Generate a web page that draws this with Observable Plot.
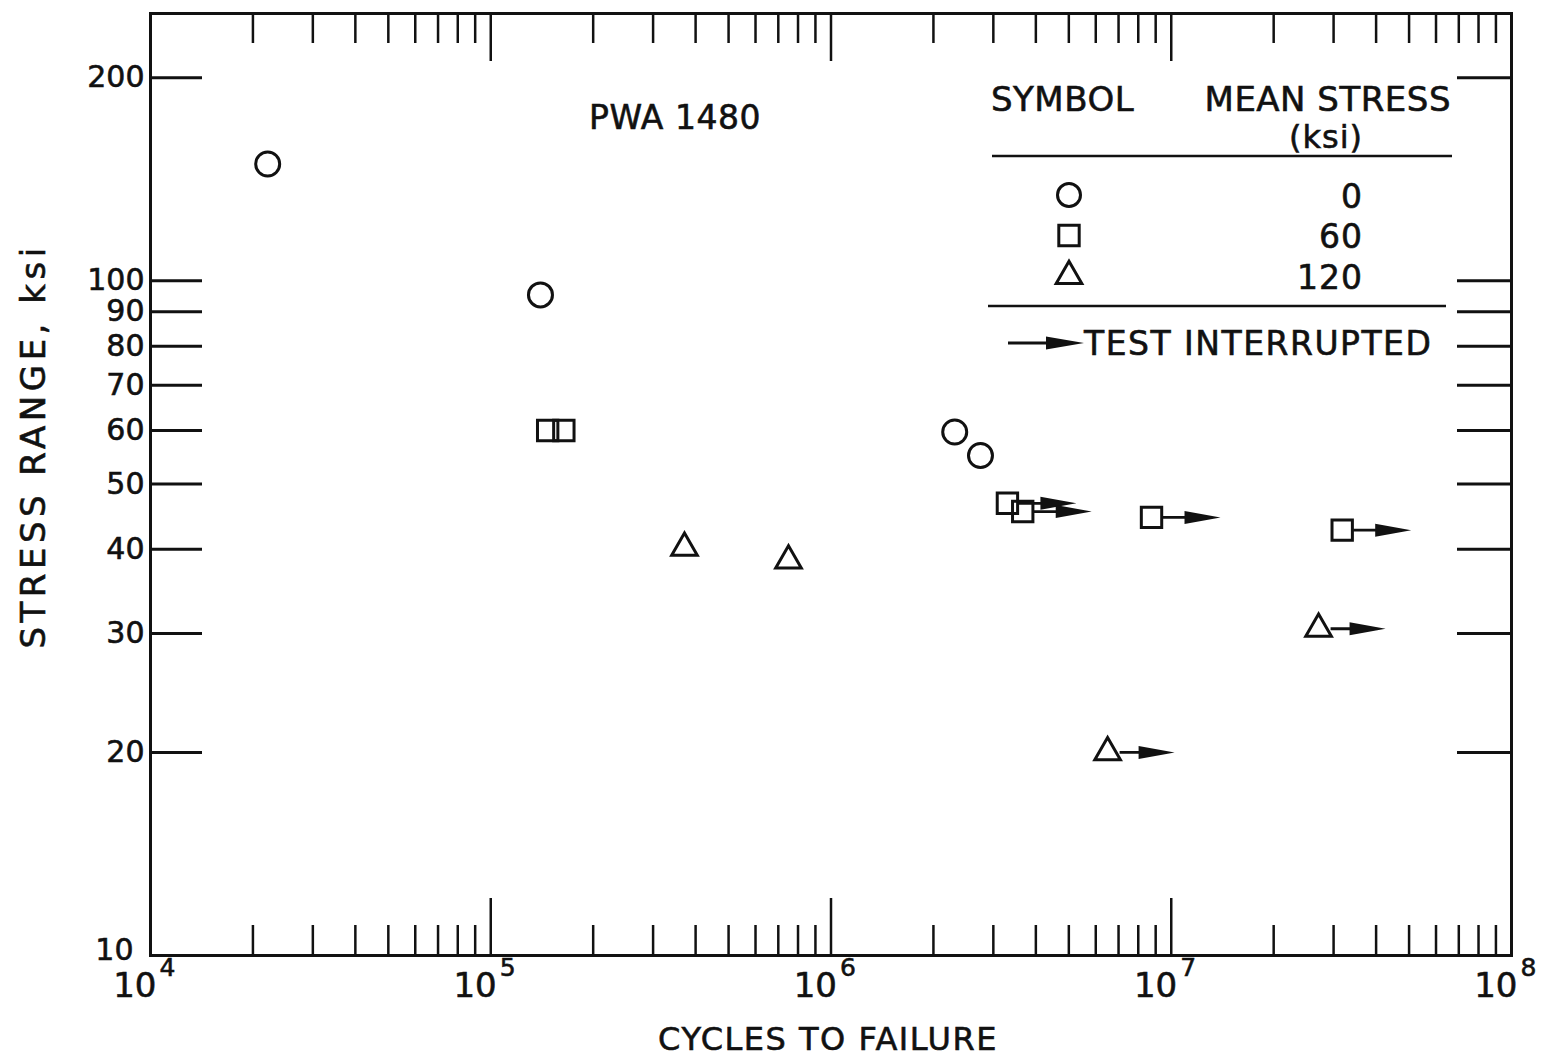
<!DOCTYPE html>
<html><head><meta charset="utf-8">
<script src="https://cdn.jsdelivr.net/npm/d3@7"></script>
<script src="https://cdn.jsdelivr.net/npm/@observablehq/plot@0.6"></script>
<style>body{margin:0;background:#fff} svg{font-family:"DejaVu Sans",sans-serif} svg text{stroke:#111;stroke-width:0.6px}</style>
</head><body><div id="chart"></div>
<script>
// ---- data ----
const circleX = [2.21e4, 1.40e5, 2.31e6, 2.75e6];
const circleY = [149, 95.3, 59.7, 55.1];
const squareX = [1.47e5, 1.64e5, 3.30e6, 3.66e6, 8.75e6, 3.18e7];
const squareY = [60, 60, 46.8, 45.5, 44.6, 42.7];
const squareInterrupted = [false, false, true, true, true, true];
const triangleX = [3.71e5, 7.50e5, 2.71e7, 6.50e6];
const triangleY = [40.2, 38.5, 30.5, 20];
const triangleInterrupted = [false, false, true, true];

const yTickValues = [20, 30, 40, 50, 60, 70, 80, 90, 100, 200];
const yLabelValues = [10, 20, 30, 40, 50, 60, 70, 80, 90, 100, 200];
const xDecades = [1e4, 1e5, 1e6, 1e7, 1e8];
const xExponents = ["4", "5", "6", "7", "8"];
const xMajorInner = [1e5, 1e6, 1e7];
const xMinorMultipliers = [2, 3, 4, 5, 6, 7, 8, 9];
const xMinorDecades = [1e4, 1e5, 1e6, 1e7];

const legendRows = [
  {symbol: "circle", label: "0"},
  {symbol: "square", label: "60"},
  {symbol: "triangle", label: "120"}
];

// ---- layout ----
const W = 1548, H = 1060;
const mL = 150, mR = 37, mT = 13, mB = 105;
const innerW = W - mL - mR, innerH = H - mT - mB;

const circles = circleX.map((x, i) => ({x, y: circleY[i]}));
const squares = squareX.map((x, i) => ({x, y: squareY[i], interrupted: squareInterrupted[i]}));
const triangles = triangleX.map((x, i) => ({x, y: triangleY[i], interrupted: triangleInterrupted[i]}));
const xMinor = xMinorDecades.flatMap(d => xMinorMultipliers.map(m => d * m));
const yMin = yLabelValues[0];

function arrowSymbol(start, headStart, tip) {
  return {draw(ctx) {
    ctx.moveTo(start, -1.4); ctx.lineTo(headStart, -1.4); ctx.lineTo(headStart, -6.5);
    ctx.lineTo(tip, 0); ctx.lineTo(headStart, 6.5); ctx.lineTo(headStart, 1.4);
    ctx.lineTo(start, 1.4); ctx.closePath();
  }};
}

const ink = "#111";
const plot = Plot.plot({
  width: W, height: H,
  marginLeft: mL, marginRight: mR, marginTop: mT, marginBottom: mB,
  x: {type: "log", domain: [1e4, 1e8], axis: null},
  y: {type: "log", domain: [10, 249], axis: null},
  style: {fontFamily: "DejaVu Sans", background: "white", color: ink},
  marks: [
    Plot.tickY(yTickValues, {y: d => d, insetRight: innerW - 52, stroke: ink, strokeWidth: 3}),
    Plot.tickY(yTickValues, {y: d => d, insetLeft: innerW - 54, stroke: ink, strokeWidth: 3}),
    Plot.tickX(xMinor, {x: d => d, insetBottom: innerH - 30, stroke: ink, strokeWidth: 2.5}),
    Plot.tickX(xMajorInner, {x: d => d, insetBottom: innerH - 48, stroke: ink, strokeWidth: 2.5}),
    Plot.tickX(xMinor, {x: d => d, insetTop: innerH - 30, stroke: ink, strokeWidth: 2.5}),
    Plot.tickX(xMajorInner, {x: d => d, insetTop: innerH - 57, stroke: ink, strokeWidth: 2.5}),
    Plot.frame({stroke: ink, strokeWidth: 3}),
    Plot.text(yLabelValues.filter(d => d !== yMin), {y: d => d, text: d => String(d), frameAnchor: "left", textAnchor: "end", lineAnchor: "middle", dx: -6, fontSize: 30, letterSpacing: 3, fill: ink}),
    Plot.text([yMin], {y: d => d, text: d => String(d), frameAnchor: "left", textAnchor: "end", lineAnchor: "middle", dx: -17, dy: -5, fontSize: 30, letterSpacing: 1, fill: ink}),
    Plot.text(xDecades, {x: d => d, text: () => "10", frameAnchor: "bottom", textAnchor: "end", lineAnchor: "middle", dx: 6, dy: 31, fontSize: 34, letterSpacing: 1, fill: ink}),
    Plot.text(xDecades, {x: d => d, text: (d, i) => xExponents[i], frameAnchor: "bottom", textAnchor: "start", lineAnchor: "middle", dx: 9, dy: 12, fontSize: 25, fill: ink}),
    Plot.dot(circles, {x: "x", y: "y", symbol: "circle", r: 12, stroke: ink, strokeWidth: 3, fill: "none"}),
    Plot.dot(squares, {x: "x", y: "y", symbol: "square", r: 11.5, stroke: ink, strokeWidth: 3, fill: "none"}),
    Plot.dot(triangles, {x: "x", y: "y", symbol: "triangle", r: 9.5, stroke: ink, strokeWidth: 3, fill: "none"}),
    Plot.dot(squares.filter(d => d.interrupted), {x: "x", y: "y", symbol: arrowSymbol(11, 33, 69), r: 5, fill: ink, stroke: "none"}),
    Plot.dot(triangles.filter(d => d.interrupted), {x: "x", y: "y", symbol: arrowSymbol(12, 31, 67), r: 5, fill: ink, stroke: "none"})
  ]
});
document.getElementById("chart").append(plot);

// ---- titles and in-plot legend ----
const svg = d3.select(plot);
const g = svg.append("g").attr("font-family", "DejaVu Sans").attr("fill", ink).attr("text-anchor", "start");
const txt = (x, y, s, size, anchor = "start", ls = 0) =>
  g.append("text").attr("x", x).attr("y", y).attr("text-anchor", anchor).attr("dominant-baseline", "central")
    .attr("font-size", size).attr("letter-spacing", ls).text(s);

txt(828, 1039, "CYCLES TO FAILURE", 32, "middle", 1.5);
g.append("text").attr("transform", "translate(33,446) rotate(-90)").attr("text-anchor", "middle").attr("dominant-baseline", "central")
  .attr("font-size", 34).attr("letter-spacing", 4.5).text("STRESS RANGE, ksi");
txt(675, 117, "PWA 1480", 33, "middle", 0.5);

txt(991, 99, "SYMBOL", 34, "start", 0.5);
txt(1451, 99, "MEAN STRESS", 34, "end", 0.5);
txt(1326, 137, "(ksi)", 32, "middle", 1);
g.append("line").attr("x1", 992).attr("x2", 1452).attr("y1", 156).attr("y2", 156).attr("stroke", ink).attr("stroke-width", 2.5);
g.append("line").attr("x1", 988).attr("x2", 1446).attr("y1", 306).attr("y2", 306).attr("stroke", ink).attr("stroke-width", 2.5);

const symMap = {circle: d3.symbolCircle, square: d3.symbolSquare, triangle: d3.symbolTriangle};
const symR = {circle: 11.5, square: 11.5, triangle: 9.5};
legendRows.forEach((row, i) => {
  const yy = 195 + i * 40.5;
  g.append("path").attr("transform", `translate(1069,${yy})`)
    .attr("d", d3.symbol(symMap[row.symbol], Math.PI * symR[row.symbol] ** 2)())
    .attr("fill", "none").attr("stroke", ink).attr("stroke-width", 3);
  txt(1363, yy + 1, row.label, 33, "end", 1);
});
g.append("path").attr("transform", "translate(1008,343)")
  .attr("d", "M0,-1.4L38,-1.4L38,-6.5L76,0L38,6.5L38,1.4L0,1.4Z").attr("fill", ink);
txt(1084, 343, "TEST INTERRUPTED", 33, "start", 1.5);
</script>
</body></html>
